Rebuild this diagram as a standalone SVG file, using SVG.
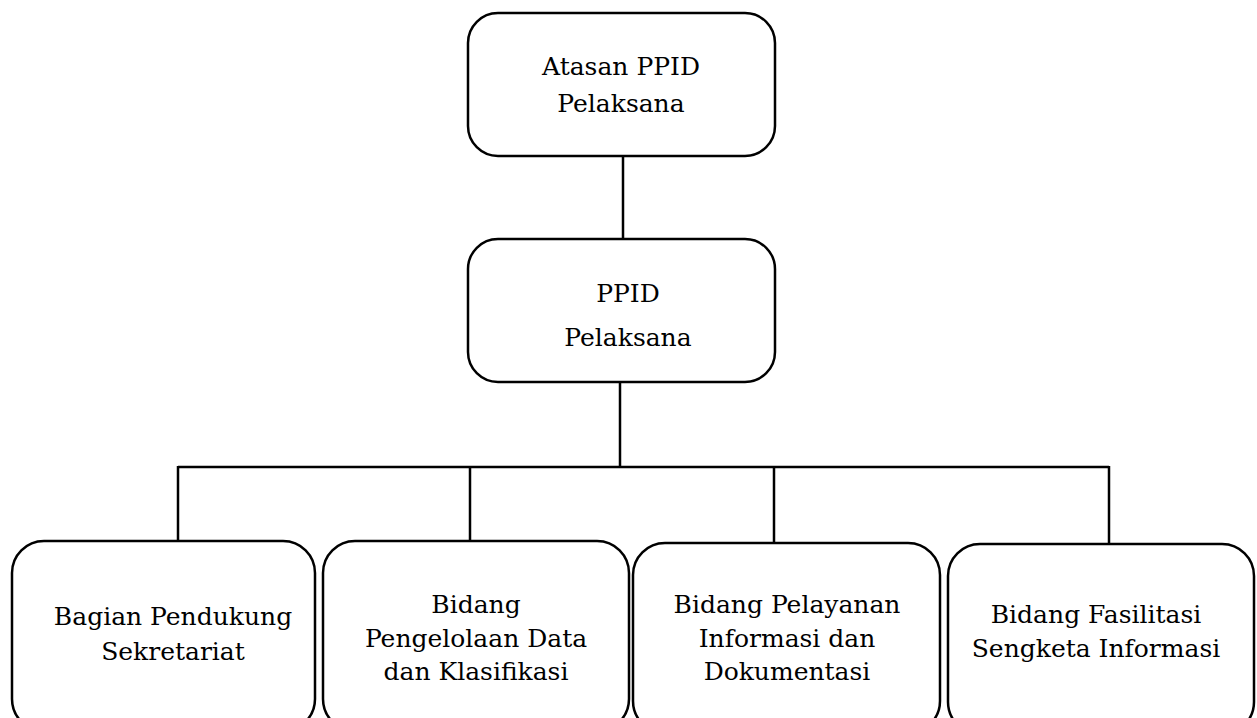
<svg xmlns="http://www.w3.org/2000/svg" width="1257" height="718" viewBox="0 0 1257 718">
<style>
.box{fill:#fff;stroke:#000;stroke-width:2.5}
.ln{stroke:#000;stroke-width:2.5;fill:none}
text{font-family:"DejaVu Serif","Liberation Serif",serif;font-size:25px;fill:#000;text-anchor:middle}
</style>
<rect width="1257" height="718" fill="#fff"/>
<g id="connectors">
<line class="ln" x1="623" y1="156" x2="623" y2="239"/>
<line class="ln" x1="620" y1="382" x2="620" y2="467"/>
<line class="ln" x1="178" y1="467" x2="1109" y2="467"/>
<line class="ln" x1="178" y1="466" x2="178" y2="541"/>
<line class="ln" x1="470" y1="466" x2="470" y2="541"/>
<line class="ln" x1="774" y1="466" x2="774" y2="543"/>
<line class="ln" x1="1109" y1="466" x2="1109" y2="544"/>
</g>
<g id="n1">
<rect class="box" x="468" y="13" width="307" height="143" rx="30"/>
<text x="621" y="75">Atasan PPID</text>
<text x="621" y="112">Pelaksana</text>
</g>
<g id="n2">
<rect class="box" x="468" y="239" width="307" height="143" rx="30"/>
<text x="628" y="302">PPID</text>
<text x="628" y="346">Pelaksana</text>
</g>
<g id="n3">
<rect class="box" x="12" y="541" width="303" height="190" rx="32"/>
<text x="173" y="625">Bagian Pendukung</text>
<text x="173" y="660">Sekretariat</text>
</g>
<g id="n4">
<rect class="box" x="323" y="541" width="306" height="190" rx="32"/>
<text x="476" y="613">Bidang</text>
<text x="476" y="647">Pengelolaan Data</text>
<text x="476" y="680">dan Klasifikasi</text>
</g>
<g id="n5">
<rect class="box" x="633" y="543" width="307" height="190" rx="32"/>
<text x="787" y="613">Bidang Pelayanan</text>
<text x="787" y="647">Informasi dan</text>
<text x="787" y="680">Dokumentasi</text>
</g>
<g id="n6">
<rect class="box" x="948" y="544" width="306" height="190" rx="32"/>
<text x="1096" y="623">Bidang Fasilitasi</text>
<text x="1096" y="657">Sengketa Informasi</text>
</g>
</svg>
